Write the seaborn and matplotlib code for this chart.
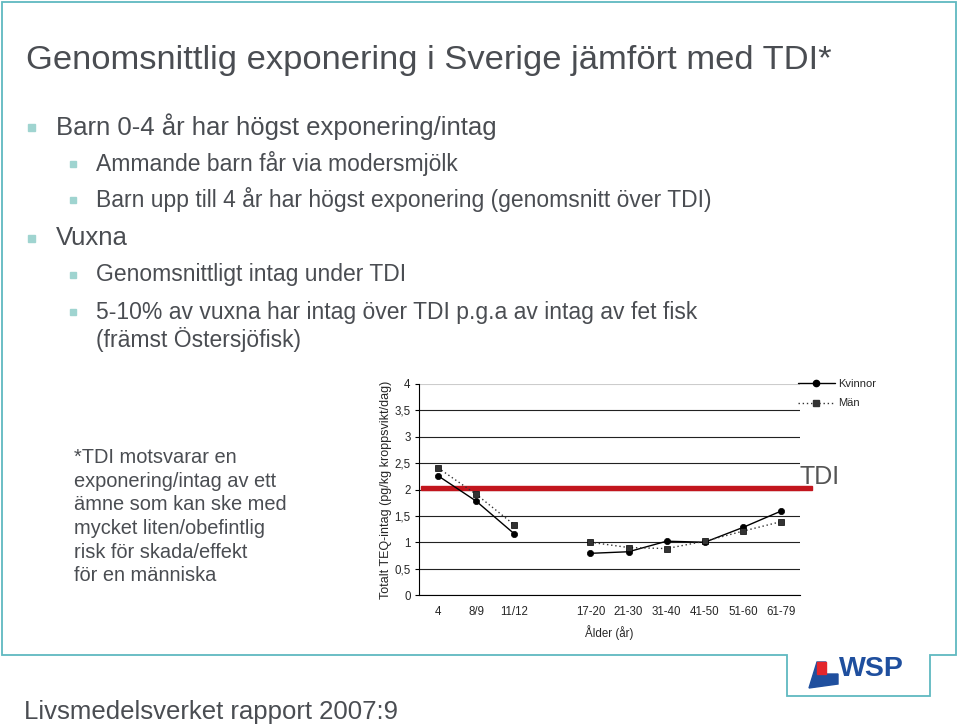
import numpy as np
import pandas as pd
import seaborn as sns
import matplotlib.pyplot as plt
from matplotlib.lines import Line2D
from matplotlib.patches import Rectangle, Polygon
from matplotlib.ticker import FuncFormatter

# data
alder = ['4', '8/9', '11/12', '', '17-20', '21-30', '31-40', '41-50', '51-60', '61-79']
grupp = ['barn', 'barn', 'barn', '', 'vuxna', 'vuxna', 'vuxna', 'vuxna', 'vuxna', 'vuxna']
kvinnor = [2.26, 1.78, 1.16, np.nan, 0.79, 0.82, 1.02, 1.00, 1.28, 1.59]
man = [2.41, 1.91, 1.33, np.nan, 1.00, 0.90, 0.88, 1.02, 1.21, 1.39]
tdi = 2.0
yticks = [0, 0.5, 1, 1.5, 2, 2.5, 3, 3.5, 4]

title = 'Genomsnittlig exponering i Sverige jämfört med TDI*'
bullets = [
    (1, 'Barn 0-4 år har högst exponering/intag', 127),
    (2, 'Ammande barn får via modersmjölk', 164),
    (2, 'Barn upp till 4 år har högst exponering (genomsnitt över TDI)', 200),
    (1, 'Vuxna', 238),
    (2, 'Genomsnittligt intag under TDI', 275),
    (2, '5-10% av vuxna har intag över TDI p.g.a av intag av fet fisk', 312),
    (0, '(främst Östersjöfisk)', 340),
]
fotnot = ('*TDI motsvarar en\nexponering/intag av ett\nämne som kan ske med\n'
          'mycket liten/obefintlig\nrisk för skada/effekt\nför en människa')
kalla = 'Livsmedelsverket rapport 2007:9'

df = pd.DataFrame({'pos': range(len(alder)), 'alder': alder, 'grupp': grupp,
                   'Kvinnor': kvinnor, 'Män': man})
df = df.melt(id_vars=['pos', 'alder', 'grupp'], value_vars=['Kvinnor', 'Män'],
             var_name='kon', value_name='teq').dropna()

sns.set_style('white')
plt.rcParams['font.family'] = ['Liberation Sans', 'DejaVu Sans']

W, H = 959, 728
fig = plt.figure(figsize=(W / 100, H / 100), dpi=100)


def fx(x):
    return x / W


def fy(y):
    return 1 - y / H


txt = '#4a4d52'
teal = '#5fb9c0'
bullet_col = '#9fd4d0'

# slide frame with notch for logo
frame = Polygon([(fx(2), fy(2)), (fx(956), fy(2)), (fx(956), fy(655)), (fx(930), fy(655)),
                 (fx(930), fy(696)), (fx(787), fy(696)), (fx(787), fy(655)), (fx(2), fy(655))],
                closed=True, fill=False, edgecolor=teal, lw=1.3, transform=fig.transFigure)
fig.add_artist(frame)

fig.text(fx(26), fy(60), title, fontsize=24.8, color=txt, va='center')

for niva, s, y in bullets:
    if niva == 1:
        fig.add_artist(Rectangle((fx(28), fy(y + 4)), 7 / W, 7 / H, color=bullet_col,
                                 transform=fig.transFigure))
        fig.text(fx(56), fy(y), s, fontsize=18.5, color=txt, va='center')
    elif niva == 2:
        fig.add_artist(Rectangle((fx(70), fy(y + 3)), 6 / W, 6 / H, color=bullet_col,
                                 transform=fig.transFigure))
        fig.text(fx(96), fy(y), s, fontsize=16.5, color=txt, va='center')
    else:
        fig.text(fx(96), fy(y), s, fontsize=16.5, color=txt, va='center')

fig.text(fx(74), fy(448), fotnot, fontsize=14.4, color=txt, va='top', linespacing=1.31)
fig.text(fx(24), fy(712), kalla, fontsize=18.5, color=txt, va='center')

# WSP logo
fig.add_artist(Polygon([(fx(809), fy(688)), (fx(817), fy(662)), (fx(826), fy(662)), (fx(826), fy(674)),
                        (fx(838), fy(674)), (fx(838), fy(684))], closed=True,
                       color='#1f4f9e', transform=fig.transFigure))
fig.add_artist(Rectangle((fx(817), fy(674)), 9 / W, 12 / H, color='#e3262d',
                         transform=fig.transFigure))
fig.text(fx(839), fy(669), 'WSP', fontsize=20.5, fontweight='bold', color='#1f4f9e', va='center')

# chart
ax = fig.add_axes([fx(419), fy(595), (800 - 419) / W, (595 - 384) / H])
sns.lineplot(data=df, x='pos', y='teq', hue='kon', style='kon', units='grupp', estimator=None,
             palette={'Kvinnor': 'black', 'Män': '#333333'},
             dashes={'Kvinnor': '', 'Män': (1, 2)},
             markers={'Kvinnor': 'o', 'Män': 's'}, markersize=4.5, linewidth=1,
             markeredgecolor='black', markeredgewidth=0.5, sort=False, legend=False, ax=ax, zorder=4)

ax.set_xlim(-0.5, len(alder) - 0.5)
ax.set_ylim(0, 4)
ax.set_yticks(yticks)
ax.yaxis.set_major_formatter(FuncFormatter(lambda v, p: f'{v:g}'.replace('.', ',')))
ax.set_xticks(range(len(alder)))
ax.set_xticklabels(alder)
ax.set_xticks(np.arange(-0.5, len(alder)), minor=True)
ax.tick_params(axis='x', which='major', length=0, labelsize=8.3, pad=8)
ax.tick_params(axis='x', which='minor', length=3, width=0.8, direction='out', color='black')
ax.tick_params(axis='y', length=3, width=0.8, labelsize=8.3, pad=3, left=True, color='black')
ax.grid(axis='y', color='#222222', lw=0.8)
ax.get_ygridlines()[-1].set_color('#cccccc')
ax.set_axisbelow(True)
for side in ['top', 'right']:
    ax.spines[side].set_visible(False)
for side in ['left', 'bottom']:
    ax.spines[side].set_color('black')
    ax.spines[side].set_linewidth(0.8)

ax.set_xlabel('Ålder (år)', fontsize=8.3, labelpad=5)
ax.set_ylabel('Totalt TEQ-intag (pg/kg kroppsvikt/dag)', fontsize=9, labelpad=2)

# TDI line
ax.axhspan(tdi, tdi + 0.07, xmin=0.005, xmax=1.032, color='#c2151d', clip_on=False, zorder=3)
fig.text(fx(800), fy(477), 'TDI', fontsize=18, color='#555555', va='center')

handles = [Line2D([], [], color='black', lw=1, marker='o', markersize=4.5),
           Line2D([], [], color='#333333', lw=1, ls=(0, (1, 2)), marker='s', markersize=4.5)]
ax.legend(handles, ['Kvinnor', 'Män'], loc='upper left', bbox_to_anchor=(fx(788), fy(369)),
          bbox_transform=fig.transFigure, frameon=False, fontsize=8, handlelength=3.3,
          handletextpad=0.3, labelspacing=0.85)

fig.savefig('out.png', dpi=100)
